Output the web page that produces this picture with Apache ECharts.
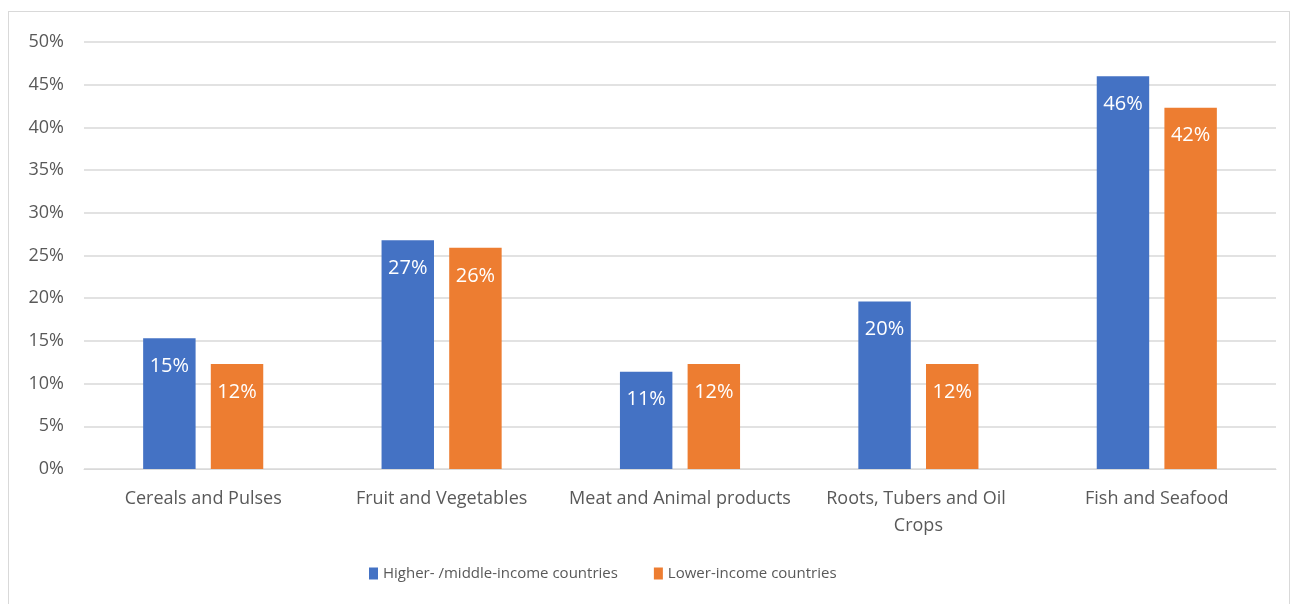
<!DOCTYPE html>
<html>
<head>
<meta charset="utf-8">
<script src="https://cdn.jsdelivr.net/npm/echarts@6/dist/echarts.min.js"></script>
<style>
  html, body { margin: 0; padding: 0; background: #fff; }
  #frame {
    position: absolute; left: 8px; top: 11px; width: 1282px; height: 600px;
    border: 1px solid #d9d9d9; box-sizing: border-box;
  }
  #chart { position: absolute; left: 0; top: 0; width: 1294px; height: 604px; }
</style>
</head>
<body>
<div id="frame"></div>
<div id="chart"></div>
<script>
const categories = ['Cereals and Pulses', 'Fruit and Vegetables', 'Meat and Animal products', 'Roots, Tubers and Oil Crops', 'Fish and Seafood']
const seriesNames = ['Higher- /middle-income countries', 'Lower-income countries']
const higherMiddle = [15.3, 26.8, 11.4, 19.6, 46.0]
const lowerIncome = [12.3, 25.9, 12.3, 12.3, 42.3]
const colors = ['#4472C4', '#ED7D31']

const font = '"Open Sans", "Liberation Sans", sans-serif'
const textGray = '#595959'

const chart = echarts.init(document.getElementById('chart'))

function barSeries(name, values, color) {
  return {
    name,
    type: 'bar',
    data: values,
    barWidth: '22%',
    barGap: '29%',
    itemStyle: { color },
    label: {
      show: true,
      position: 'insideTop',
      distance: 18,
      color: '#fff',
      fontFamily: font,
      fontSize: 20,
      formatter: (p) => Math.round(p.value) + '%',
    },
  }
}

chart.setOption({
  animation: false,
  textStyle: { fontFamily: font },
  grid: { left: 84, right: 18, top: 42, bottom: 135 },
  legend: {
    bottom: 18,
    left: 364,
    itemWidth: 9,
    itemHeight: 12,
    itemGap: 36,
    icon: 'rect',
    textStyle: { color: textGray, fontSize: 15, fontFamily: font },
    data: seriesNames,
  },
  xAxis: {
    type: 'category',
    data: categories,
    axisTick: { show: false },
    axisLine: { lineStyle: { color: '#d9d9d9', width: 1 } },
    axisLabel: {
      color: textGray,
      fontSize: 18,
      fontFamily: font,
      margin: 16,
      interval: 0,
      width: 226,
      overflow: 'break',
      lineHeight: 27,
    },
  },
  yAxis: {
    type: 'value',
    min: 0,
    max: 50,
    interval: 5,
    axisLine: { show: false },
    axisTick: { show: false },
    splitLine: { lineStyle: { color: '#d9d9d9', width: 1.5 } },
    axisLabel: {
      color: textGray,
      fontSize: 18,
      fontFamily: font,
      margin: 20,
      formatter: '{value}%',
    },
  },
  series: [
    barSeries(seriesNames[0], higherMiddle, colors[0]),
    barSeries(seriesNames[1], lowerIncome, colors[1]),
  ],
})
</script>
</body>
</html>
